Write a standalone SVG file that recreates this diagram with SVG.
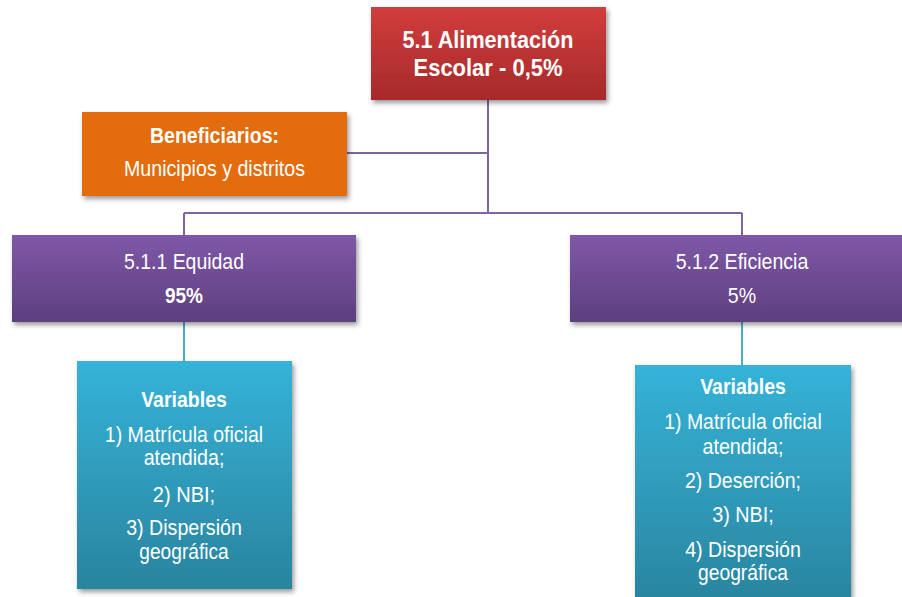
<svg xmlns="http://www.w3.org/2000/svg" width="902" height="597" viewBox="0 0 902 597">
<defs>
<linearGradient id="gRed" x1="0" y1="0" x2="0" y2="1"><stop offset="0" stop-color="#d23d3d"/><stop offset="1" stop-color="#a62a2a"/></linearGradient>
<linearGradient id="gPur" x1="0" y1="0" x2="0" y2="1"><stop offset="0" stop-color="#7f58a8"/><stop offset="1" stop-color="#5d3f7e"/></linearGradient>
<linearGradient id="gTeal" x1="0" y1="0" x2="0" y2="1"><stop offset="0" stop-color="#35b3d8"/><stop offset="1" stop-color="#2a849e"/></linearGradient>
<filter id="sh" x="-10%" y="-10%" width="125%" height="130%"><feDropShadow dx="2" dy="3" stdDeviation="2.5" flood-color="#000" flood-opacity="0.4"/></filter>
</defs>
<style>
text{font-family:"Liberation Sans",Arial,sans-serif;fill:#fff;text-anchor:middle}
.b{font-weight:bold}
.t{font-size:24px}
.r{font-size:22px}
.cp{stroke:#8064a2;stroke-width:2;fill:none}
.ct{stroke:#4bacc6;stroke-width:2;fill:none}
</style>
<rect width="902" height="597" fill="#fff"/>
<g id="connectors">
<path class="cp" d="M488 100V213M347 153H488M184 213H742M184 213V235M742 213V235"/>
<path class="ct" d="M184 322V361M742 322V365"/>
</g>
<g id="n-top">
<rect x="371" y="7" width="235" height="93" fill="url(#gRed)" filter="url(#sh)"/>
<text class="b t" x="488" y="48" textLength="171" lengthAdjust="spacingAndGlyphs">5.1 Alimentación</text>
<text class="b t" x="488" y="76" textLength="149" lengthAdjust="spacingAndGlyphs">Escolar - 0,5%</text>
</g>
<g id="n-benef">
<rect x="82" y="112" width="265" height="84" fill="#e36c0a" filter="url(#sh)"/>
<text class="b r" x="214.5" y="143" textLength="129" lengthAdjust="spacingAndGlyphs">Beneficiarios:</text>
<text class="r" x="214.5" y="176" textLength="181" lengthAdjust="spacingAndGlyphs">Municipios y distritos</text>
</g>
<g id="n-equidad">
<rect x="12" y="235" width="344" height="87" fill="url(#gPur)" filter="url(#sh)"/>
<text class="r" x="184" y="269" textLength="120" lengthAdjust="spacingAndGlyphs">5.1.1 Equidad</text>
<text class="b r" x="184" y="303" textLength="38" lengthAdjust="spacingAndGlyphs">95%</text>
</g>
<g id="n-eficiencia">
<rect x="570" y="235" width="344" height="87" fill="url(#gPur)" filter="url(#sh)"/>
<text class="r" x="742" y="269" textLength="132.6" lengthAdjust="spacingAndGlyphs">5.1.2 Eficiencia</text>
<text class="r" x="742" y="303" textLength="28.3" lengthAdjust="spacingAndGlyphs">5%</text>
</g>
<g id="n-var-left">
<rect x="77" y="361" width="215" height="228" fill="url(#gTeal)" filter="url(#sh)"/>
<text class="b r" x="184" y="406.5" textLength="85.7" lengthAdjust="spacingAndGlyphs">Variables</text>
<text class="r" x="184" y="441.5" textLength="158.3" lengthAdjust="spacingAndGlyphs">1) Matrícula oficial</text>
<text class="r" x="184" y="465" textLength="80.7" lengthAdjust="spacingAndGlyphs">atendida;</text>
<text class="r" x="184" y="501.5" textLength="62.3" lengthAdjust="spacingAndGlyphs">2) NBI;</text>
<text class="r" x="184" y="535" textLength="115.7" lengthAdjust="spacingAndGlyphs">3) Dispersión</text>
<text class="r" x="184" y="558.5" textLength="89.3" lengthAdjust="spacingAndGlyphs">geográfica</text>
</g>
<g id="n-var-right">
<rect x="635" y="365" width="216" height="240" fill="url(#gTeal)" filter="url(#sh)"/>
<text class="b r" x="743" y="394.3" textLength="85.7" lengthAdjust="spacingAndGlyphs">Variables</text>
<text class="r" x="743" y="429" textLength="157.4" lengthAdjust="spacingAndGlyphs">1) Matrícula oficial</text>
<text class="r" x="743" y="454" textLength="81" lengthAdjust="spacingAndGlyphs">atendida;</text>
<text class="r" x="743" y="488.3" textLength="116" lengthAdjust="spacingAndGlyphs">2) Deserción;</text>
<text class="r" x="743" y="521.7" textLength="61.6" lengthAdjust="spacingAndGlyphs">3) NBI;</text>
<text class="r" x="743" y="556.7" textLength="115.7" lengthAdjust="spacingAndGlyphs">4) Dispersión</text>
<text class="r" x="743" y="580" textLength="90" lengthAdjust="spacingAndGlyphs">geográfica</text>
</g>
</svg>
